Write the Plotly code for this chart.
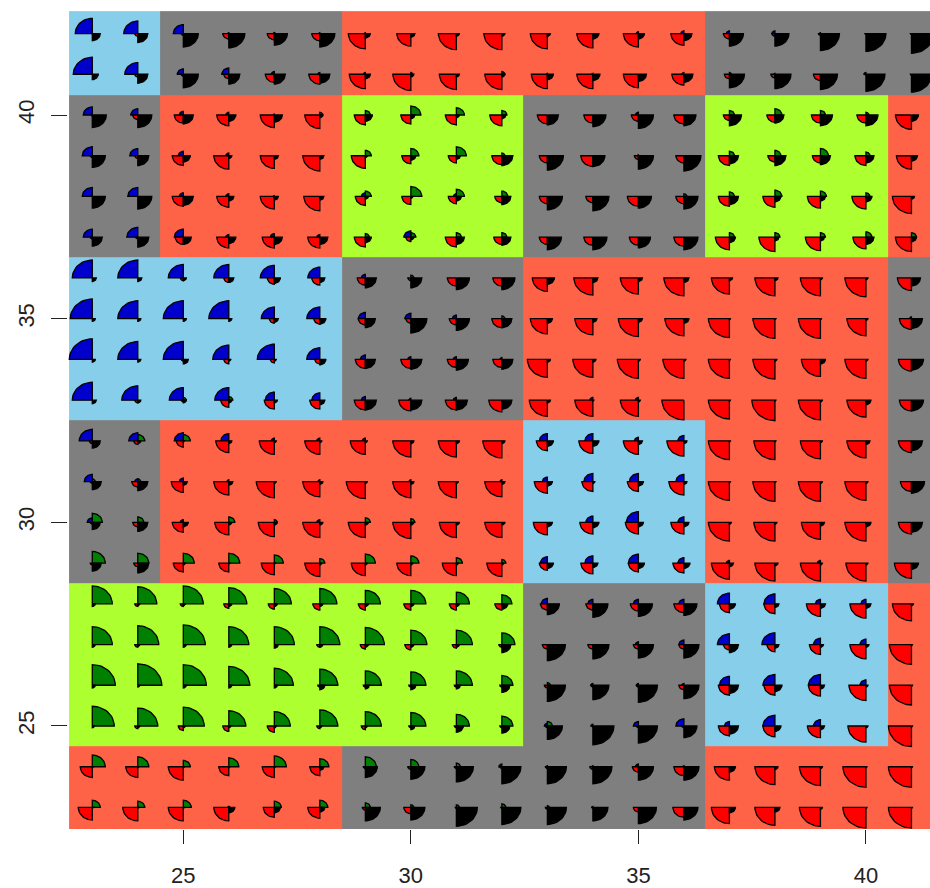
import plotly.graph_objects as go
import numpy as np

xs = list(range(23, 42))
ys = list(range(42, 22, -1))

# rows y=42..23, columns x=23..41
blue = [
 [17,14,10,1,1,1,1,0,0,0,0,0,2,3,3,3,1,0,0],
 [19,13,6,7,3,2,2,0,0,0,1,1,0,2,0,1,0,2,0],
 [9,7,4,3,1,0,0,0,0,0,0,0,3,0,0,0,0,0,0],
 [10,8,5,3,0,0,0,0,0,0,0,0,1,0,0,0,0,0,0],
 [10,10,4,3,1,0,4,0,3,0,0,0,0,0,0,0,0,0,0],
 [9,11,9,3,4,3,0,7,0,0,0,0,0,0,0,0,0,0,0],
 [20,20,15,15,14,12,4,0,0,0,0,0,0,0,0,0,0,0,0],
 [22,20,20,20,13,13,7,6,4,0,0,0,0,0,0,0,0,0,2],
 [23,20,20,16,17,13,5,3,3,2,0,0,0,0,0,0,0,0,0],
 [20,16,14,14,9,8,4,2,3,0,0,3,3,0,0,0,0,0,0],
 [13,9,9,8,3,3,3,0,0,0,8,8,4,6,0,0,0,0,0],
 [8,3,4,2,0,2,0,2,0,2,5,9,9,8,0,0,0,0,0],
 [5,0,3,0,0,3,0,0,0,0,0,7,12,6,0,0,0,0,0],
 [0,0,0,0,0,0,0,0,0,0,7,8,10,6,3,0,3,0,0],
 [0,0,0,0,0,0,0,0,0,0,6,5,5,5,12,11,5,5,0],
 [0,0,0,0,0,0,0,0,0,0,0,0,3,5,12,13,7,6,0],
 [0,0,0,0,0,0,0,0,0,0,0,2,2,2,10,12,12,6,0],
 [0,0,0,0,0,0,0,0,0,0,3,2,5,8,5,12,7,0,0],
 [0,0,0,0,0,0,0,0,0,3,1,1,3,1,0,0,0,0,0],
 [0,0,0,1,0,0,0,0,0,0,0,1,0,0,0,0,0,0,0],
]
green = [
 [0,0,0,0,1,0,0,0,0,0,0,0,0,0,0,0,0,0,0],
 [0,0,0,0,0,0,0,2,0,3,0,0,0,0,2,0,0,0,0],
 [0,0,0,0,0,3,5,10,8,5,0,0,0,0,5,7,5,3,0],
 [0,0,0,0,0,0,6,8,10,3,0,0,0,0,5,6,8,4,0],
 [0,0,0,0,0,0,6,11,8,6,0,0,0,3,5,7,6,4,0],
 [0,0,0,0,0,0,4,5,5,5,0,0,0,0,5,5,5,6,5],
 [0,0,0,0,0,0,0,3,0,0,0,0,0,0,0,0,0,0,0],
 [0,0,0,0,0,0,0,0,0,3,0,0,0,0,0,0,0,0,0],
 [0,0,0,0,0,0,0,0,0,0,0,0,0,0,0,0,0,0,0],
 [0,0,3,4,0,0,0,0,0,0,0,0,0,0,0,0,0,0,0],
 [0,7,7,0,0,0,0,0,0,0,0,0,0,0,0,0,0,0,0],
 [3,3,0,0,0,0,0,0,0,0,0,0,0,0,0,0,0,0,0],
 [10,6,0,6,3,0,5,4,0,0,0,0,0,0,0,0,0,0,0],
 [13,11,11,11,9,5,10,8,6,4,0,0,0,0,0,0,0,0,0],
 [20,19,20,18,17,17,15,15,13,10,0,0,0,0,0,0,0,0,0],
 [20,21,22,20,20,20,19,16,16,13,0,0,0,0,0,0,0,0,0],
 [23,24,23,21,19,18,16,15,16,11,3,0,0,0,0,0,0,0,0],
 [22,20,21,17,16,18,16,15,13,11,5,0,0,0,0,0,0,0,0],
 [13,11,7,10,12,9,11,8,4,0,0,0,0,0,0,0,0,0,0],
 [8,7,8,1,7,8,5,3,3,4,2,0,0,0,0,0,0,0,0],
]
black = [
 [8,10,15,16,13,15,5,4,3,3,3,6,6,8,14,14,19,20,22],
 [6,10,15,11,11,10,5,3,3,3,6,7,8,9,15,16,17,19,20],
 [14,14,10,7,8,3,7,4,3,4,11,13,15,12,12,9,12,12,7],
 [13,11,7,3,4,4,2,5,4,11,16,12,15,17,9,11,10,8,6],
 [13,14,10,5,4,4,3,2,5,9,15,16,13,14,9,6,5,6,3],
 [10,11,8,7,8,8,6,3,8,9,14,14,12,14,6,4,4,8,5],
 [4,4,3,5,6,5,11,11,13,13,7,5,4,5,3,3,2,2,9],
 [3,3,3,3,4,6,10,16,13,10,5,4,4,5,1,1,1,2,11],
 [3,3,5,2,2,6,10,11,12,11,3,3,2,2,1,2,5,2,12],
 [4,3,3,3,3,5,11,11,11,10,3,1,2,0,1,1,2,5,12],
 [8,3,1,3,2,2,2,3,3,3,6,6,4,3,1,1,2,4,11],
 [9,10,4,4,2,3,2,3,2,3,5,2,5,3,1,1,2,2,13],
 [8,10,5,3,3,3,3,3,3,3,5,6,5,5,2,2,4,5,11],
 [9,11,2,1,1,2,2,2,2,2,6,5,6,6,4,3,2,2,7],
 [3,2,2,3,3,3,3,3,3,6,12,15,14,13,6,4,5,5,2],
 [3,2,3,3,4,3,3,3,3,9,18,16,15,15,9,4,3,3,1],
 [3,2,3,3,3,5,4,5,4,8,18,16,19,15,9,7,4,2,1],
 [2,2,2,2,2,2,2,4,7,8,15,21,19,13,9,6,4,2,1],
 [1,1,1,1,1,4,12,14,17,19,19,19,15,15,6,3,2,1,1],
 [1,1,1,6,6,5,15,14,21,19,19,15,18,14,6,5,2,1,1],
]
red = [
 [0,3,2,6,7,8,17,14,18,18,17,16,15,13,6,3,2,1,1],
 [0,3,2,5,9,11,16,18,17,17,16,16,15,12,5,4,7,1,1],
 [1,5,9,12,14,15,11,10,11,12,10,9,7,10,6,8,9,9,16],
 [2,3,11,15,14,17,14,9,8,10,8,12,4,8,11,7,8,11,15],
 [0,0,11,12,14,16,10,9,8,7,8,7,11,8,11,12,13,14,19],
 [2,2,8,12,12,12,11,5,11,8,8,9,9,10,14,16,15,13,16],
 [0,0,3,5,7,8,8,3,9,9,15,19,18,20,18,20,20,21,14],
 [0,0,0,0,5,6,7,5,7,10,17,18,20,19,21,22,22,19,12],
 [0,0,2,5,4,5,10,10,9,9,20,20,21,21,21,22,19,21,13],
 [0,3,2,8,10,10,11,12,11,13,18,18,18,22,21,23,22,19,12],
 [3,4,7,13,15,15,15,18,18,19,11,14,15,17,21,21,20,19,13],
 [2,6,12,15,18,17,19,18,18,17,13,11,11,15,21,22,22,21,11],
 [2,5,11,14,16,17,17,18,17,17,14,13,13,13,21,21,19,21,13],
 [2,4,10,10,13,15,14,14,14,15,8,12,10,11,18,20,20,20,17],
 [0,3,3,5,6,7,7,7,7,7,7,7,8,10,10,11,14,16,19],
 [0,3,0,0,0,3,5,6,4,3,5,5,5,5,6,8,11,16,22],
 [0,0,0,0,0,2,2,2,2,2,3,2,2,5,11,11,12,17,22],
 [0,3,5,6,7,3,4,2,2,2,2,1,2,2,11,12,13,18,23],
 [12,12,15,10,12,10,2,3,2,2,2,3,6,10,15,20,21,23,23],
 [14,15,15,15,11,12,3,7,1,1,2,1,5,11,18,20,21,23,23],
]

edges_x = [22.49, 24.5, 28.49, 32.46, 36.46, 40.48, 41.7]
edges_y = [22.47, 24.5, 28.5, 32.5, 36.5, 40.5, 42.55]
tile_colors = ["#87CEEB", "#7F7F7F", "#FF6347", "#ADFF2F"]
# bottom row first; 0 sky, 1 gray, 2 tomato, 3 greenyellow
tiles = [
 [2, 2, 1, 1, 2, 2],
 [3, 3, 3, 1, 0, 2],
 [1, 2, 2, 0, 2, 1],
 [0, 0, 1, 2, 2, 1],
 [1, 2, 3, 1, 3, 2],
 [0, 1, 2, 2, 1, 1],
]

UX, UY = 45.51, 40.73  # pixels per data unit

def wedges(matrix, a0):
    px, py = [], []
    th = np.radians(np.linspace(a0, a0 + 90, 16))
    for yv, row in zip(ys, matrix):
        for xv, v in zip(xs, row):
            if v <= 0:
                continue
            r = v / UX
            px += [xv] + list(xv + r * np.cos(th)) + [xv, None]
            py += [yv] + list(yv + r * np.sin(th)) + [yv, None]
    return px, py

scale = [[0, tile_colors[0]], [0.25, tile_colors[0]], [0.25, tile_colors[1]], [0.5, tile_colors[1]],
         [0.5, tile_colors[2]], [0.75, tile_colors[2]], [0.75, tile_colors[3]], [1, tile_colors[3]]]
fig = go.Figure()
fig.add_trace(go.Heatmap(x=edges_x, y=edges_y, z=tiles, zmin=-0.5, zmax=3.5,
                         colorscale=scale, showscale=False, hoverinfo="skip"))
for name, m, ang, col in [("green", green, 0, "#008000"), ("blue", blue, 90, "#0000CD"),
                          ("red", red, 180, "#FF0000"), ("black", black, 270, "#000000")]:
    px, py = wedges(m, ang)
    fig.add_trace(go.Scatter(x=px, y=py, mode="lines", fill="toself", fillcolor=col, name=name,
                             line=dict(color="black", width=1.3), hoverinfo="skip"))

W, H = 930, 888
L, R, T, B = 68, 930, 11, 829
x0 = 25 + (L - 183.3) / UX
x1 = 25 + (R - 183.3) / UX
y0 = 25 - (B - 726) / UY
y1 = 40 + (115 - T) / UY
fig.update_layout(
    template="none",
    width=W, height=H, autosize=False, showlegend=False,
    margin=dict(l=L, r=W - R, t=T, b=H - B, pad=0),
    paper_bgcolor="white", plot_bgcolor="white",
    font=dict(family="Liberation Sans, Arial, sans-serif", size=22, color="#222222"),
    xaxis=dict(range=[x0, x1], tickvals=[25, 30, 35, 40], showgrid=False, zeroline=False,
               ticks="outside", ticklen=14, tickwidth=1.3, tickcolor="#222222", showline=False,
               ticklabelstandoff=13, automargin=False),
    yaxis=dict(range=[y0, y1], tickvals=[25, 30, 35, 40], showgrid=False, zeroline=False,
               ticks="outside", ticklen=16, tickwidth=1.3, tickcolor="#222222", tickangle=-90, showline=False,
               ticklabelstandoff=8, automargin=False),
)
fig.write_html("out.html", default_width="930px", default_height="888px",
               config={"displayModeBar": False},
               post_script="document.body.style.margin='0';")
